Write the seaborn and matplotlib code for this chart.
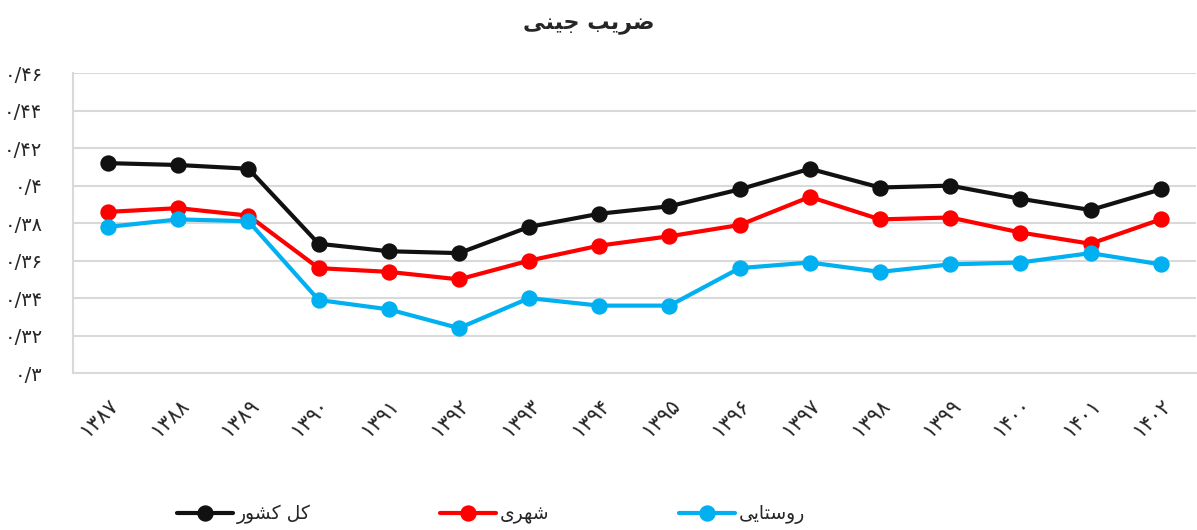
import seaborn as sns
import pandas as pd
import matplotlib.pyplot as plt

years = ['۱۳۸۷', '۱۳۸۸', '۱۳۸۹', '۱۳۹۰', '۱۳۹۱', '۱۳۹۲', '۱۳۹۳', '۱۳۹۴',
         '۱۳۹۵', '۱۳۹۶', '۱۳۹۷', '۱۳۹۸', '۱۳۹۹', '۱۴۰۰', '۱۴۰۱', '۱۴۰۲']
total = [0.412, 0.411, 0.409, 0.369, 0.365, 0.364, 0.378, 0.385,
         0.389, 0.398, 0.409, 0.399, 0.400, 0.393, 0.387, 0.398]
urban = [0.386, 0.388, 0.384, 0.356, 0.354, 0.350, 0.360, 0.368,
         0.373, 0.379, 0.394, 0.382, 0.383, 0.375, 0.369, 0.382]
rural = [0.378, 0.382, 0.381, 0.339, 0.334, 0.324, 0.340, 0.336,
         0.336, 0.356, 0.359, 0.354, 0.358, 0.359, 0.364, 0.358]
series_names = ['کل کشور', 'شهری', 'روستایی']
title_text = 'ضریب جینی'
yticks = [0.30, 0.32, 0.34, 0.36, 0.38, 0.40, 0.42, 0.44, 0.46]
ytick_labels = ['۰/۳', '۰/۳۲', '۰/۳۴', '۰/۳۶', '۰/۳۸', '۰/۴', '۰/۴۲', '۰/۴۴', '۰/۴۶']
colors = ['#111111', '#ff0000', '#00b0f0']

# matplotlib has no arabic shaping, so pick presentation forms by hand
FORMS = {
    'ض': ('\uFEBD', '\uFEBE', '\uFEBF', '\uFEC0'),
    'ر': ('\uFEAD', '\uFEAE', None, None),
    'ی': ('\uFBFC', '\uFBFD', '\uFBFE', '\uFBFF'),
    'ب': ('\uFE8F', '\uFE90', '\uFE91', '\uFE92'),
    'ج': ('\uFE9D', '\uFE9E', '\uFE9F', '\uFEA0'),
    'ن': ('\uFEE5', '\uFEE6', '\uFEE7', '\uFEE8'),
    'ک': ('\uFB8E', '\uFB8F', '\uFB90', '\uFB91'),
    'ل': ('\uFEDD', '\uFEDE', '\uFEDF', '\uFEE0'),
    'ش': ('\uFEB5', '\uFEB6', '\uFEB7', '\uFEB8'),
    'و': ('\uFEED', '\uFEEE', None, None),
    'ه': ('\uFEE9', '\uFEEA', '\uFEEB', '\uFEEC'),
    'س': ('\uFEB1', '\uFEB2', '\uFEB3', '\uFEB4'),
    'ت': ('\uFE95', '\uFE96', '\uFE97', '\uFE98'),
    'ا': ('\uFE8D', '\uFE8E', None, None),
}


def shape(text):
    out = []
    for i, ch in enumerate(text):
        if ch not in FORMS:
            out.append(ch)
            continue
        prev = text[i - 1] if i > 0 else ''
        nxt = text[i + 1] if i + 1 < len(text) else ''
        join_prev = prev in FORMS and FORMS[prev][2] is not None
        join_next = nxt in FORMS and FORMS[ch][2] is not None
        iso, fin, ini, med = FORMS[ch]
        if join_prev and join_next:
            out.append(med)
        elif join_prev:
            out.append(fin)
        elif join_next:
            out.append(ini)
        else:
            out.append(iso)
    return ''.join(out)[::-1]


rows = []
for name, vals in zip(series_names, [total, urban, rural]):
    for y, v in zip(years, vals):
        rows.append({'year': y, 'value': v, 'series': name})
df = pd.DataFrame(rows)

sns.set_style('white')
plt.rcParams['font.family'] = ['DejaVu Sans']

fig = plt.figure(figsize=(11.97, 5.30), dpi=100)
ax = fig.add_axes([0.061, 0.296, 0.938, 0.566])

sns.pointplot(data=df, x='year', y='value', hue='series', order=years,
              hue_order=series_names, palette=colors, markers='o',
              linestyles='-', markersize=9.5, linewidth=3, ax=ax)

ax.set_ylim(0.30, 0.46)
ax.set_yticks(yticks)
ax.set_yticklabels(ytick_labels, fontsize=14)
ax.set_xticks(range(len(years)))
ax.set_xticklabels(years, rotation=45, ha='right', rotation_mode='anchor', fontsize=15)
ax.tick_params(axis='y', length=0, pad=22)
ax.tick_params(axis='x', length=0, pad=16)
ax.set_xlabel('')
ax.set_ylabel('')
ax.yaxis.grid(True, color='#d9d9d9', linewidth=1.5)
ax.set_axisbelow(True)
for side in ['top', 'right']:
    ax.spines[side].set_visible(False)
for side in ['left', 'bottom']:
    ax.spines[side].set_color('#d9d9d9')
    ax.spines[side].set_linewidth(1.5)

fig.text(0.492, 0.952, shape(title_text), ha='center', va='center',
         fontsize=16, fontweight='bold')

handles, _ = ax.get_legend_handles_labels()
ax.get_legend().remove()
fig.legend(handles[:3], [shape(s) for s in series_names], loc='center',
           bbox_to_anchor=(0.41, 0.03), ncol=3, frameon=False, fontsize=13.5,
           handlelength=3.0, columnspacing=6.9, handletextpad=0.2)

fig.savefig('out.png', dpi=100)
